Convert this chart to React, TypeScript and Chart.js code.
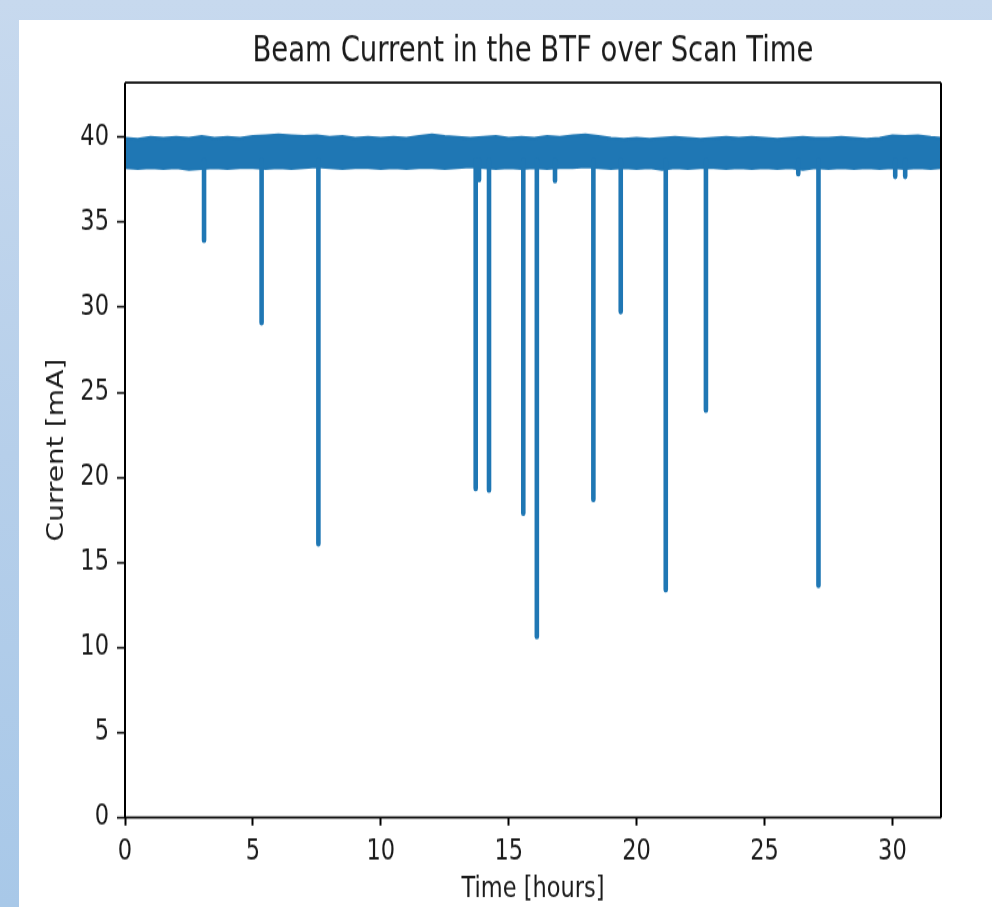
import React, { useEffect, useRef } from "react";
import { Chart, registerables } from "chart.js";

Chart.register(...registerables);

// ---- labels ----
const TITLE = "Beam Current in the BTF over Scan Time";
const X_LABEL = "Time [hours]";
const Y_LABEL = "Current [mA]";

// ---- tick values ----
const xTickValues = [0, 5, 10, 15, 20, 25, 30];
const yTickValues = [0, 5, 10, 15, 20, 25, 30, 35, 40];
const X_MAX = 31.9;
const Y_MAX = 43.2;

// ---- steady-beam band: upper / lower envelope of the noisy current (mA) ----
const bandHours = [
  0, 0.5, 1, 1.5, 2, 2.5, 3, 3.5, 4, 4.5,
  5, 5.5, 6, 6.5, 7, 7.5, 8, 8.5, 9, 9.5,
  10, 10.5, 11, 11.5, 12, 12.5, 13, 13.5, 14, 14.5,
  15, 15.5, 16, 16.5, 17, 17.5, 18, 18.5, 19, 19.5,
  20, 20.5, 21, 21.5, 22, 22.5, 23, 23.5, 24, 24.5,
  25, 25.5, 26, 26.5, 27, 27.5, 28, 28.5, 29, 29.5,
  30, 30.5, 31, 31.5, 31.9,
];
const bandUpper = [
  39.95, 39.9, 40.0, 39.95, 40.0, 39.95, 40.05, 39.95, 40.0, 39.95,
  40.05, 40.1, 40.15, 40.1, 40.05, 40.1, 40.0, 40.05, 39.95, 40.0,
  39.95, 40.0, 39.95, 40.05, 40.15, 40.05, 40.0, 39.95, 40.0, 40.05,
  39.95, 40.0, 39.95, 40.05, 40.0, 40.1, 40.15, 40.05, 39.95, 39.9,
  39.95, 39.9, 39.95, 40.0, 39.95, 39.9, 39.95, 40.0, 39.95, 40.0,
  39.95, 39.9, 39.95, 40.0, 39.95, 39.95, 40.0, 39.95, 39.9, 39.95,
  40.1, 40.05, 40.1, 40.0, 39.95,
];
const bandLower = [
  38.2, 38.15, 38.2, 38.15, 38.2, 38.1, 38.15, 38.2, 38.15, 38.2,
  38.2, 38.15, 38.2, 38.15, 38.2, 38.25, 38.2, 38.15, 38.2, 38.2,
  38.15, 38.2, 38.15, 38.2, 38.2, 38.15, 38.2, 38.25, 38.2, 38.15,
  38.2, 38.15, 38.2, 38.15, 38.2, 38.2, 38.25, 38.2, 38.15, 38.2,
  38.15, 38.2, 38.1, 38.2, 38.15, 38.2, 38.2, 38.15, 38.2, 38.15,
  38.2, 38.15, 38.2, 38.1, 38.2, 38.15, 38.2, 38.15, 38.2, 38.15,
  38.2, 38.15, 38.2, 38.15, 38.2,
];

// ---- beam drops: time of each drop and the lowest current reached ----
const dipHours = [
  3.09, 5.34, 7.56, 13.71, 13.84, 14.23, 15.57, 16.1, 16.81,
  18.31, 19.38, 21.14, 22.71, 26.32, 27.11, 30.11, 30.5,
];
const dipMin = [
  33.95, 29.1, 16.1, 19.35, 37.5, 19.25, 17.9, 10.65, 37.45,
  18.7, 29.75, 13.4, 23.95, 37.85, 13.65, 37.7, 37.7,
];
const DIP_START = 38.6;

const BLUE = "#1f77b4";
const TEXT = "#1a1a1a";
const FONT = "'DejaVu Sans', 'Liberation Sans', sans-serif";

// canvas is drawn at a reduced height and stretched vertically on screen
const CANVAS_W = 973;
const CANVAS_H = 710;
const CSS_H = 887;

const framePlugin = {
  id: "axesFrame",
  afterDatasetsDraw(chart: any) {
    const { ctx, chartArea } = chart;
    const { left, top, right, bottom } = chartArea;
    ctx.save();
    ctx.strokeStyle = "#000";
    ctx.lineWidth = 1.7;
    ctx.beginPath();
    ctx.moveTo(left, top);
    ctx.lineTo(right, top);
    ctx.moveTo(left, bottom);
    ctx.lineTo(right, bottom);
    ctx.stroke();
    ctx.lineWidth = 2;
    ctx.beginPath();
    ctx.moveTo(left, top);
    ctx.lineTo(left, bottom);
    ctx.moveTo(right, top);
    ctx.lineTo(right, bottom);
    ctx.stroke();
    ctx.restore();
  },
};

function BeamCurrentChart() {
  const ref = useRef<HTMLCanvasElement | null>(null);

  useEffect(() => {
    if (!ref.current) return;

    const upperPts = bandHours.map((h, i) => ({ x: h, y: bandUpper[i] }));
    const lowerPts = bandHours.map((h, i) => ({ x: h, y: bandLower[i] }));
    const dipPts: any[] = [];
    dipHours.forEach((h, i) => {
      dipPts.push({ x: h, y: DIP_START });
      dipPts.push({ x: h, y: dipMin[i] });
      dipPts.push({ x: h, y: null });
    });

    const chart = new Chart(ref.current, {
      type: "line",
      data: {
        datasets: [
          {
            label: "drops",
            data: dipPts,
            borderColor: BLUE,
            borderWidth: 4.6,
            borderCapStyle: "round",
            borderJoinStyle: "round",
            pointRadius: 0,
            spanGaps: false,
            fill: false,
          },
          {
            label: "upper",
            data: upperPts,
            borderColor: BLUE,
            backgroundColor: BLUE,
            borderWidth: 2,
            pointRadius: 0,
            fill: "+1",
          },
          {
            label: "lower",
            data: lowerPts,
            borderColor: BLUE,
            borderWidth: 2,
            pointRadius: 0,
            fill: false,
          },
        ],
      },
      options: {
        responsive: false,
        maintainAspectRatio: false,
        devicePixelRatio: 1,
        animation: false,
        events: [],
        layout: { padding: { left: 0, right: 51, top: 0, bottom: 0 } },
        plugins: {
          legend: { display: false },
          tooltip: { enabled: false },
          title: {
            display: true,
            text: TITLE,
            fullSize: false,
            color: TEXT,
            font: { family: FONT, size: 27.5, weight: "normal" },
            padding: { top: 9.4, bottom: 7.8 },
          },
        },
        scales: {
          x: {
            type: "linear",
            min: 0,
            max: X_MAX,
            afterBuildTicks(scale: any) {
              scale.ticks = xTickValues.map((v) => ({ value: v }));
            },
            afterFit(scale: any) {
              scale.height = 71.6;
            },
            ticks: {
              color: TEXT,
              font: { family: FONT, size: 22.5 },
              padding: 7.5,
              maxRotation: 0,
              autoSkip: false,
            },
            grid: {
              display: true,
              drawOnChartArea: false,
              drawTicks: true,
              tickLength: 6.4,
              tickColor: "#000",
              tickWidth: 2,
            },
            border: { display: false },
            title: {
              display: true,
              text: X_LABEL,
              color: TEXT,
              font: { family: FONT, size: 22.5 },
              padding: { top: 0, bottom: 0 },
            },
          },
          y: {
            type: "linear",
            min: 0,
            max: Y_MAX,
            afterBuildTicks(scale: any) {
              scale.ticks = yTickValues.map((v) => ({ value: v }));
            },
            afterFit(scale: any) {
              scale.width = 106;
            },
            ticks: {
              color: TEXT,
              font: { family: FONT, size: 22.5 },
              padding: 8,
              autoSkip: false,
            },
            grid: {
              display: true,
              drawOnChartArea: false,
              drawTicks: true,
              tickLength: 8,
              tickColor: "#000",
              tickWidth: 1.6,
            },
            border: { display: false },
            title: {
              display: true,
              text: Y_LABEL,
              color: TEXT,
              font: { family: FONT, size: 22.5 },
              padding: { top: 24.5, bottom: 0 },
            },
          },
        },
      },
      plugins: [framePlugin],
    } as any);

    return () => chart.destroy();
  }, []);

  return (
    <canvas
      ref={ref}
      width={CANVAS_W}
      height={CANVAS_H}
      style={{ width: `${CANVAS_W}px`, height: `${CSS_H}px`, display: "block" }}
    />
  );
}

export default function App() {
  return (
    <div
      style={{
        position: "fixed",
        left: 0,
        top: 0,
        width: 992,
        height: 907,
        overflow: "hidden",
        background: "linear-gradient(180deg, #c7d9ee 0%, #b6cfea 50%, #a8c8e8 100%)",
      }}
    >
      <div
        style={{
          position: "absolute",
          left: 19,
          top: 20,
          width: CANVAS_W,
          height: CSS_H,
          background: "#fff",
        }}
      >
        <BeamCurrentChart />
      </div>
    </div>
  );
}
